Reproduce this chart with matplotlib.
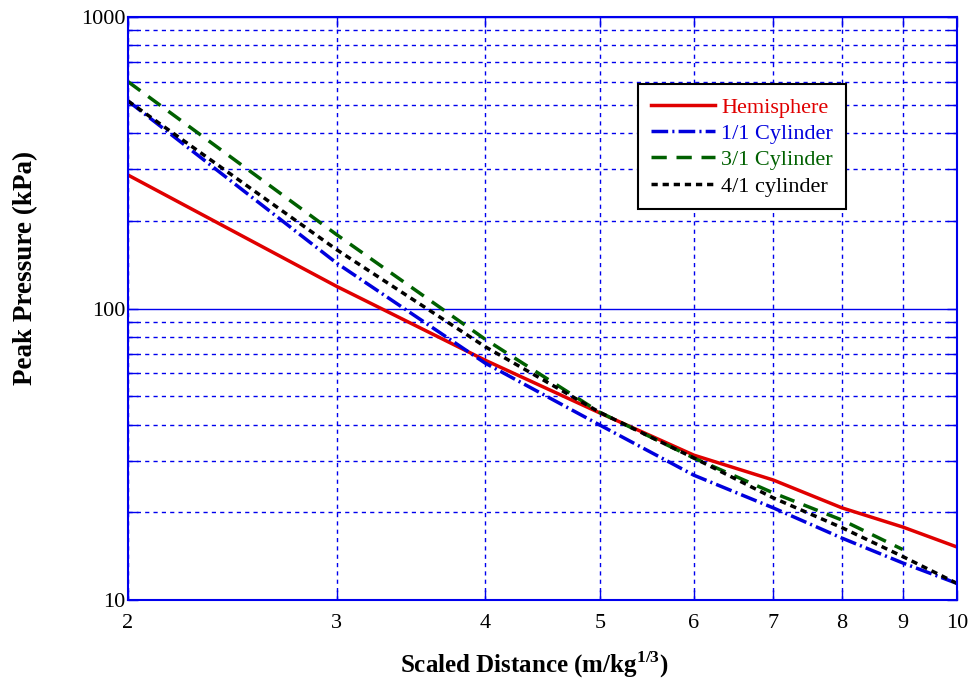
import matplotlib
matplotlib.use('Agg')
import matplotlib.pyplot as plt
from matplotlib.ticker import FixedLocator, NullFormatter, LogLocator

plt.rcParams['font.family'] = ['Liberation Serif', 'DejaVu Serif']
plt.rcParams['mathtext.fontset'] = 'custom'
plt.rcParams['mathtext.rm'] = 'Liberation Serif'
plt.rcParams['mathtext.bf'] = 'Liberation Serif:bold'
plt.rcParams['lines.scale_dashes'] = False

# Datos
distancia = [2, 3, 4, 5, 6, 7, 8, 9, 10]
hemisferio = [287, 119, 66.5, 43.8, 31.4, 25.8, 20.7, 17.8, 15.2]
cilindro_1_1 = [515, 143, 65, 39.8, 26.8, 20.7, 16.3, 13.4, 11.4]
distancia_3_1 = [2, 3, 4, 5, 6, 7, 8, 9]
cilindro_3_1 = [600, 179, 78.5, 44, 30.7, 23.3, 18.8, 14.9]
cilindro_4_1 = [515, 159, 74, 44, 30.7, 22.4, 17.7, 14.1, 11.4]

azul = '#0000ee'

fig = plt.figure(figsize=(9.7, 6.84), dpi=100)
ax = fig.add_axes([0.132, 0.1228, 0.8546, 0.8523])

ax.plot(distancia, hemisferio, color='#e00000', lw=2.5, label='Hemisphere')
ax.plot(distancia, cilindro_1_1, color='#0000dd', lw=2.5, dashes=(12, 3, 1.5, 3), label='1/1 Cylinder')
ax.plot(distancia_3_1, cilindro_3_1, color='#006000', lw=2.5, dashes=(11, 7), label='3/1 Cylinder')
ax.plot(distancia, cilindro_4_1, color='black', lw=2.5, dashes=(4.5, 3.5), label='4/1 cylinder')

ax.set_xscale('log')
ax.set_yscale('log')
ax.set_xlim(2, 10)
ax.set_ylim(10, 1000)

# eje x: etiquetas de 2 a 10
ax.xaxis.set_major_locator(FixedLocator(distancia))
ax.xaxis.set_minor_locator(FixedLocator([]))
ax.set_xticklabels([str(d) for d in distancia])
ax.xaxis.set_minor_formatter(NullFormatter())

# eje y: 10, 100, 1000
ax.yaxis.set_major_locator(FixedLocator([10, 100, 1000]))
ax.set_yticklabels(['10', '100', '1000'])
ax.yaxis.set_minor_locator(LogLocator(base=10, subs=range(2, 10)))
ax.yaxis.set_minor_formatter(NullFormatter())

ax.grid(True, axis='y', which='major', color=azul, lw=1, ls='-')
ax.grid(True, axis='y', which='minor', color=azul, lw=1, ls=(0, (3, 3)))
ax.grid(True, axis='x', which='major', color=azul, lw=1, ls=(0, (3, 3)))

ax.tick_params(which='both', direction='in', color=azul, top=True, right=True,
               labelsize=16, length=7, width=1)
ax.tick_params(axis='x', pad=10)
ax.tick_params(axis='y', pad=2)
for s in ax.spines.values():
    s.set_color(azul)
    s.set_linewidth(1.5)

ax.set_xlabel(r'Scaled Distance (m/kg$^{\mathbf{1/3}}$)', fontsize=18, fontweight='bold')
ax.set_ylabel('Peak Pressure (kPa)', fontsize=19.5, fontweight='bold')
ax.xaxis.set_label_coords(0.49, -0.085)
ax.yaxis.set_label_coords(-0.124, 0.569)
ax.yaxis.label.set_va('center')

leg = ax.legend(loc='upper right', bbox_to_anchor=(0.866, 0.885), fontsize=16,
                fancybox=False, framealpha=1, edgecolor='black', borderaxespad=0,
                handlelength=2.85, borderpad=0.58, labelspacing=0.26, handletextpad=0.3)
leg.get_frame().set_linewidth(1.5)
for texto, linea in zip(leg.get_texts(), leg.get_lines()):
    texto.set_color(linea.get_color())

fig.savefig('out.png', dpi=100)
